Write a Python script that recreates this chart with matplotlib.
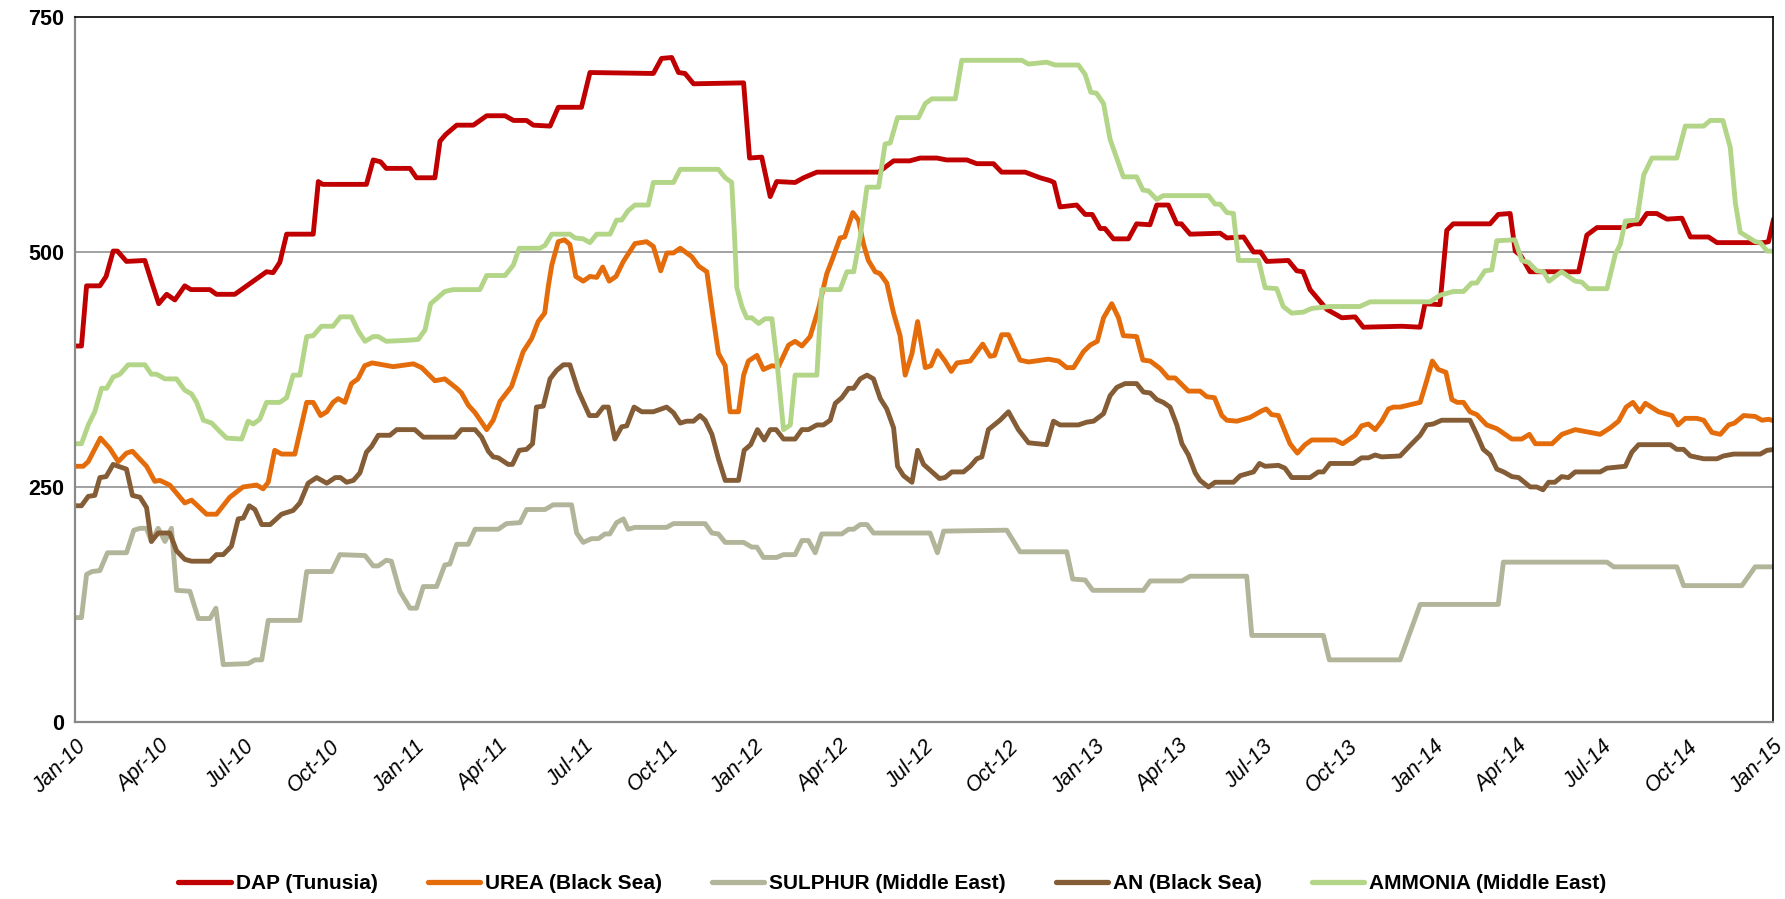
import matplotlib
matplotlib.use("Agg")
import matplotlib.pyplot as plt
import numpy as np
import pandas as pd

plt.rcParams['font.family'] = ['Liberation Sans', 'DejaVu Sans']

# (months since Jan-2010, USD/t)
dap = [
    (0, 400), (0.23, 400), (0.41, 464), (0.88, 464), (1.1, 474), (1.35, 501), (1.5, 501), (1.82, 490),
    (2.47, 491), (2.7, 469), (2.96, 445), (3.24, 455), (3.53, 449), (3.88, 464), (4.1, 460), (4.77, 460),
    (5.0, 455), (5.65, 455), (6.77, 479), (7.0, 478), (7.24, 489), (7.48, 519), (8.42, 519), (8.6, 575),
    (8.75, 572), (10.13, 572), (10.3, 572), (10.54, 598), (10.8, 596), (11.0, 589), (11.84, 589),
    (12.07, 579), (12.72, 579), (12.9, 618), (13.1, 625), (13.49, 635), (14.08, 635), (14.55, 645),
    (15.2, 645), (15.5, 640), (15.96, 640), (16.2, 635), (16.79, 634), (17.08, 654), (17.9, 654),
    (18.2, 691), (20.44, 690), (20.73, 706), (21.09, 707), (21.33, 691), (21.56, 690), (21.86, 679),
    (23.63, 680), (23.84, 600), (24.27, 601), (24.57, 559), (24.8, 575), (25.45, 574), (25.75, 579),
    (26.22, 585), (28.4, 585), (28.93, 597), (29.5, 597), (29.87, 600), (30.46, 600), (30.8, 598),
    (31.52, 598), (31.87, 594), (32.46, 594), (32.75, 585), (33.58, 585), (34.11, 579), (34.46, 576),
    (34.6, 574), (34.81, 548), (35.4, 550), (35.7, 540), (35.95, 540), (36.23, 525), (36.4, 525),
    (36.7, 514), (37.23, 514), (37.52, 530), (37.99, 529), (38.23, 550), (38.64, 550), (38.94, 530),
    (39.1, 530), (39.41, 519), (40.47, 520), (40.71, 515), (41.3, 516), (41.65, 500), (41.9, 500),
    (42.12, 490), (42.88, 491), (43.18, 480), (43.4, 479), (43.65, 460), (44.24, 439), (44.77, 430),
    (45.24, 431), (45.53, 420), (46.89, 421), (47.54, 420), (47.71, 445), (48.24, 444), (48.48, 523),
    (48.71, 530), (50.01, 530), (50.3, 540), (50.72, 541), (50.9, 501), (51.1, 496), (51.42, 479),
    (53.14, 479), (53.43, 518), (53.79, 526), (54.73, 526), (55.08, 530), (55.3, 530), (55.55, 541),
    (55.9, 541), (56.26, 535), (56.79, 536), (57.09, 516), (57.73, 516), (58.03, 510), (59.68, 510),
    (59.85, 511), (60.03, 535),
]

urea = [
    (0, 272), (0.29, 272), (0.47, 277), (0.9, 302), (1.23, 291), (1.53, 277), (1.82, 286), (2.03, 288),
    (2.53, 272), (2.82, 256), (3.0, 257), (3.35, 252), (3.88, 233), (4.12, 236), (4.65, 221), (5.0, 221),
    (5.47, 239), (5.94, 250), (6.42, 252), (6.65, 248), (6.83, 255), (7.06, 289), (7.3, 285), (7.77, 285),
    (8.19, 340), (8.42, 340), (8.68, 326), (8.9, 330), (9.12, 340), (9.3, 344), (9.54, 340), (9.77, 360),
    (10.0, 365), (10.24, 379), (10.5, 382), (11.25, 378), (11.96, 381), (12.25, 377), (12.72, 363),
    (13.07, 365), (13.49, 355), (13.66, 350), (13.9, 337), (14.14, 329), (14.55, 311), (14.78, 321),
    (15.02, 341), (15.43, 357), (15.84, 394), (16.14, 408), (16.37, 426), (16.6, 435), (16.73, 464),
    (16.85, 486), (17.08, 511), (17.3, 513), (17.49, 508), (17.7, 474), (17.96, 469), (18.2, 474),
    (18.44, 473), (18.65, 484), (18.88, 469), (19.12, 474), (19.38, 490), (19.79, 509), (20.2, 511),
    (20.44, 506), (20.7, 480), (20.92, 499), (21.15, 499), (21.39, 504), (21.8, 495), (22.04, 485),
    (22.33, 479), (22.51, 440), (22.74, 392), (22.98, 379), (23.15, 330), (23.45, 330), (23.63, 369),
    (23.8, 384), (24.1, 390), (24.33, 375), (24.63, 379), (24.86, 378), (25.22, 401), (25.45, 405),
    (25.69, 400), (25.98, 410), (26.28, 440), (26.57, 477), (26.75, 491), (27.04, 515), (27.2, 516),
    (27.49, 542), (27.69, 534), (27.87, 508), (28.04, 491), (28.28, 479), (28.45, 477), (28.69, 467),
    (28.93, 435), (29.16, 411), (29.34, 369), (29.58, 392), (29.78, 426), (30.05, 377), (30.25, 379),
    (30.48, 395), (30.75, 384), (30.97, 373), (31.17, 382), (31.64, 384), (32.08, 402), (32.34, 389),
    (32.5, 390), (32.75, 412), (32.99, 412), (33.4, 385), (33.7, 383), (34.4, 386), (34.76, 384),
    (35.05, 377), (35.29, 377), (35.64, 394), (35.88, 401), (36.13, 405), (36.35, 430), (36.64, 445),
    (36.88, 430), (37.05, 411), (37.52, 410), (37.74, 385), (38.0, 384), (38.35, 376), (38.64, 366),
    (38.88, 366), (39.35, 352), (39.76, 352), (40.0, 346), (40.27, 345), (40.53, 326), (40.71, 321),
    (41.06, 320), (41.53, 324), (41.94, 331), (42.1, 333), (42.29, 327), (42.53, 326), (42.94, 296),
    (43.2, 286), (43.47, 295), (43.71, 300), (44.53, 300), (44.8, 296), (45.24, 305), (45.47, 315),
    (45.71, 317), (45.95, 311), (46.18, 320), (46.42, 333), (46.6, 335), (46.83, 335), (47.54, 340),
    (47.77, 363), (47.97, 384), (48.18, 375), (48.45, 372), (48.66, 343), (48.85, 340), (49.07, 340),
    (49.3, 330), (49.54, 327), (49.89, 316), (50.25, 312), (50.78, 301), (51.13, 301), (51.4, 306),
    (51.61, 296), (52.2, 296), (52.55, 306), (53.02, 311), (53.9, 306), (54.26, 313), (54.55, 320),
    (54.82, 335), (55.06, 340), (55.3, 330), (55.5, 339), (55.97, 330), (56.44, 326), (56.65, 316),
    (56.91, 323), (57.32, 323), (57.56, 321), (57.85, 308), (58.15, 306), (58.44, 316), (58.65, 318),
    (58.97, 326), (59.38, 325), (59.62, 321), (59.85, 322), (60.09, 320),
]

sulphur = [
    (0, 111), (0.23, 111), (0.41, 157), (0.6, 160), (0.88, 161), (1.15, 180), (1.82, 180), (2.08, 204),
    (2.3, 206), (2.53, 206), (2.7, 192), (2.94, 206), (3.18, 192), (3.41, 206), (3.59, 140), (4.06, 139),
    (4.36, 110), (4.77, 110), (4.98, 121), (5.24, 61), (6.12, 62), (6.36, 66), (6.6, 66), (6.83, 108),
    (7.95, 108), (8.19, 160), (9.07, 160), (9.36, 178), (10.25, 177), (10.54, 166), (10.72, 166),
    (11.0, 172), (11.18, 171), (11.48, 139), (11.84, 121), (12.07, 121), (12.31, 144), (12.78, 144),
    (13.07, 167), (13.25, 168), (13.49, 189), (13.9, 189), (14.14, 205), (14.96, 205), (15.25, 211),
    (15.73, 212), (15.96, 226), (16.61, 226), (16.9, 231), (17.55, 231), (17.73, 201), (17.96, 191),
    (18.26, 195), (18.5, 195), (18.73, 200), (18.9, 200), (19.14, 212), (19.38, 216), (19.55, 205),
    (19.79, 207), (20.91, 207), (21.15, 211), (22.27, 211), (22.51, 201), (22.74, 200), (22.98, 191),
    (23.63, 191), (23.92, 186), (24.1, 186), (24.33, 175), (24.8, 175), (25.04, 178), (25.45, 178),
    (25.69, 193), (25.92, 193), (26.16, 180), (26.39, 200), (27.1, 200), (27.34, 205), (27.52, 205),
    (27.75, 210), (27.99, 210), (28.22, 201), (30.22, 201), (30.48, 180), (30.7, 203), (32.93, 204),
    (33.4, 181), (35.05, 181), (35.26, 152), (35.7, 151), (35.97, 140), (37.76, 140), (38.0, 150),
    (39.12, 150), (39.41, 155), (41.41, 155), (41.59, 92), (44.12, 92), (44.33, 66), (46.83, 66),
    (47.54, 125), (50.3, 125), (50.48, 170), (54.14, 170), (54.38, 165), (56.61, 165), (56.85, 145),
    (58.91, 145), (59.38, 165), (60.09, 165),
]

an = [
    (0, 230), (0.23, 230), (0.47, 240), (0.7, 241), (0.88, 260), (1.1, 261), (1.35, 274), (1.53, 272),
    (1.82, 269), (2.03, 241), (2.3, 239), (2.53, 228), (2.7, 192), (2.94, 201), (3.35, 201), (3.59, 182),
    (3.88, 173), (4.12, 171), (4.77, 171), (5.0, 178), (5.24, 178), (5.53, 187), (5.77, 216), (5.95, 217),
    (6.16, 230), (6.36, 226), (6.6, 210), (6.9, 210), (7.3, 221), (7.71, 225), (7.95, 233), (8.24, 254),
    (8.54, 260), (8.9, 254), (9.2, 260), (9.38, 260), (9.6, 255), (9.84, 257), (10.07, 265), (10.3, 287),
    (10.48, 293), (10.72, 305), (11.13, 305), (11.37, 311), (12.01, 311), (12.31, 303), (13.43, 303),
    (13.66, 311), (14.14, 311), (14.37, 303), (14.61, 288), (14.78, 282), (14.96, 281), (15.31, 274),
    (15.46, 274), (15.7, 289), (15.96, 290), (16.17, 296), (16.31, 335), (16.55, 336), (16.79, 365),
    (17.02, 374), (17.26, 380), (17.49, 380), (17.79, 352), (18.18, 326), (18.44, 326), (18.67, 335),
    (18.85, 335), (19.08, 301), (19.32, 314), (19.5, 315), (19.76, 335), (20.03, 330), (20.44, 330),
    (20.91, 335), (21.15, 329), (21.39, 318), (21.62, 320), (21.86, 320), (22.09, 326), (22.27, 321),
    (22.51, 306), (22.74, 280), (22.98, 257), (23.45, 257), (23.65, 289), (23.88, 295), (24.12, 311),
    (24.36, 300), (24.57, 311), (24.78, 311), (25.04, 301), (25.45, 301), (25.69, 311), (25.92, 311),
    (26.22, 316), (26.45, 316), (26.69, 321), (26.87, 339), (27.1, 345), (27.34, 355), (27.52, 355),
    (27.75, 365), (27.99, 369), (28.22, 365), (28.46, 344), (28.69, 333), (28.93, 313), (29.07, 272),
    (29.28, 262), (29.58, 255), (29.78, 289), (29.99, 274), (30.25, 267), (30.55, 259), (30.75, 260),
    (30.99, 266), (31.4, 266), (31.64, 272), (31.87, 280), (32.05, 282), (32.28, 311), (32.69, 321),
    (32.99, 330), (33.34, 311), (33.7, 297), (34.34, 295), (34.58, 320), (34.81, 316), (35.46, 316),
    (35.76, 319), (36.0, 320), (36.35, 328), (36.58, 347), (36.82, 356), (37.11, 360), (37.52, 360),
    (37.76, 351), (38.0, 350), (38.23, 343), (38.46, 340), (38.7, 335), (38.94, 316), (39.12, 296),
    (39.35, 284), (39.59, 265), (39.76, 257), (40.06, 250), (40.29, 255), (40.94, 255), (41.18, 262),
    (41.65, 266), (41.86, 275), (42.06, 272), (42.53, 273), (42.76, 270), (43.0, 260), (43.65, 260),
    (43.94, 266), (44.12, 266), (44.35, 275), (45.18, 275), (45.47, 281), (45.71, 281), (45.95, 284),
    (46.18, 282), (46.83, 283), (47.18, 294), (47.54, 305), (47.77, 316), (48.0, 317), (48.3, 321),
    (49.3, 321), (49.54, 306), (49.77, 290), (50.01, 284), (50.25, 269), (50.49, 266), (50.78, 261),
    (51.02, 260), (51.43, 250), (51.66, 250), (51.88, 247), (52.08, 255), (52.3, 255), (52.54, 261),
    (52.78, 260), (53.02, 266), (53.9, 266), (54.14, 270), (54.79, 272), (55.02, 287), (55.26, 295),
    (56.38, 295), (56.61, 290), (56.85, 290), (57.09, 283), (57.56, 280), (58.03, 280), (58.26, 283),
    (58.62, 285), (59.56, 285), (59.8, 289), (60.09, 290),
]

ammonia = [
    (0, 296), (0.23, 296), (0.47, 316), (0.7, 330), (0.94, 355), (1.12, 355), (1.35, 367), (1.59, 370),
    (1.88, 380), (2.47, 380), (2.7, 370), (2.88, 370), (3.18, 365), (3.59, 365), (3.88, 353), (4.12, 349),
    (4.3, 340), (4.54, 321), (4.83, 318), (5.12, 309), (5.36, 302), (5.89, 301), (6.12, 320), (6.3, 317),
    (6.53, 322), (6.77, 340), (7.24, 340), (7.48, 345), (7.71, 369), (7.95, 369), (8.19, 410), (8.42, 411),
    (8.71, 421), (9.12, 421), (9.38, 431), (9.77, 431), (10.01, 416), (10.25, 405), (10.54, 410),
    (10.72, 410), (11.0, 405), (11.72, 406), (12.13, 407), (12.37, 417), (12.57, 445), (12.84, 452),
    (13.07, 458), (13.37, 460), (14.31, 460), (14.55, 475), (15.2, 475), (15.49, 486), (15.7, 504),
    (16.43, 504), (16.61, 507), (16.85, 519), (17.49, 519), (17.67, 515), (17.96, 514), (18.2, 510),
    (18.44, 519), (18.91, 519), (19.14, 534), (19.32, 534), (19.55, 544), (19.79, 550), (20.26, 550),
    (20.44, 574), (21.15, 574), (21.39, 588), (22.74, 588), (22.98, 579), (23.21, 574), (23.3, 523),
    (23.39, 462), (23.57, 442), (23.74, 430), (23.92, 430), (24.16, 424), (24.39, 429), (24.63, 429),
    (24.8, 386), (25.04, 311), (25.28, 316), (25.45, 369), (26.22, 369), (26.39, 460), (27.04, 460),
    (27.28, 479), (27.52, 479), (27.75, 516), (27.99, 569), (28.4, 569), (28.63, 615), (28.81, 616),
    (29.07, 643), (29.81, 643), (30.05, 658), (30.28, 663), (31.11, 663), (31.34, 704), (33.46, 704),
    (33.7, 700), (34.34, 702), (34.64, 699), (35.46, 699), (35.7, 689), (35.9, 670), (36.1, 669),
    (36.35, 658), (36.58, 620), (37.05, 580), (37.52, 580), (37.74, 566), (37.94, 565), (38.23, 556),
    (38.46, 560), (40.06, 560), (40.29, 551), (40.47, 551), (40.71, 542), (40.94, 541), (41.12, 491),
    (41.83, 491), (42.06, 462), (42.47, 461), (42.7, 442), (43.0, 435), (43.41, 436), (43.71, 440),
    (44.35, 442), (45.41, 442), (45.77, 447), (47.89, 447), (48.24, 454), (48.71, 458), (49.07, 458),
    (49.36, 467), (49.54, 467), (49.83, 480), (50.07, 481), (50.25, 512), (50.89, 513), (51.13, 491),
    (51.37, 489), (51.66, 480), (51.9, 479), (52.09, 469), (52.54, 479), (53.02, 469), (53.25, 468),
    (53.49, 461), (54.14, 461), (54.44, 498), (54.61, 508), (54.79, 533), (55.2, 534), (55.44, 582),
    (55.73, 600), (56.61, 600), (56.91, 634), (57.56, 634), (57.79, 640), (58.24, 640), (58.5, 611),
    (58.68, 552), (58.85, 521), (59.38, 511), (59.56, 510), (59.8, 501), (60.09, 501),
]

series = [
    ("DAP (Tunusia)", dap, "#C00000"),
    ("UREA (Black Sea)", urea, "#E46C0A"),
    ("SULPHUR (Middle East)", sulphur, "#B2B59A"),
    ("AN (Black Sea)", an, "#845C36"),
    ("AMMONIA (Middle East)", ammonia, "#B3D588"),
]

start = pd.Timestamp("2010-01-01")
end = pd.Timestamp("2015-01-01")


def a_fechas(meses):
    return start + pd.to_timedelta(np.array(meses) * 30.4375, unit="D")


fig = plt.figure(figsize=(17.85, 8.99), dpi=100)
ax = fig.add_axes([0.042, 0.197, 0.951, 0.784])

for nombre, datos, color in series:
    meses, valores = zip(*datos)
    ax.plot(a_fechas(meses), valores, color=color, linewidth=3.5, label=nombre,
            solid_joinstyle="round", solid_capstyle="round")

ax.set_xlim(start, end)
ax.set_ylim(0, 750)
ax.set_yticks([0, 250, 500, 750])
for y in (250, 500):
    ax.axhline(y, color="#878787", linewidth=1.1, zorder=0)

ticks = pd.date_range(start, end, freq="QS")
ax.set_xticks(ticks)
ax.set_xticklabels([t.strftime("%b-%y") for t in ticks], rotation=45, ha="right",
                   rotation_mode="anchor", fontstyle="italic", fontsize=15.5)
ax.tick_params(axis="x", length=0, pad=10)
ax.tick_params(axis="y", length=0, pad=8, labelsize=15.5)
for lbl in ax.get_yticklabels():
    lbl.set_fontweight("bold")

for lado in ("left", "bottom"):
    ax.spines[lado].set_color("#898989")
    ax.spines[lado].set_linewidth(1.6)
for lado in ("top", "right"):
    ax.spines[lado].set_color("#000000")
    ax.spines[lado].set_linewidth(1.2)

leg = fig.legend(loc="lower center", bbox_to_anchor=(0.5, -0.014), ncol=5, frameon=False,
                 handlelength=2.5, columnspacing=2.4, handletextpad=0.25,
                 prop={"weight": "bold", "size": 15})
for linea in leg.get_lines():
    linea.set_linewidth(3.8)

fig.savefig("out.png", dpi=100)
